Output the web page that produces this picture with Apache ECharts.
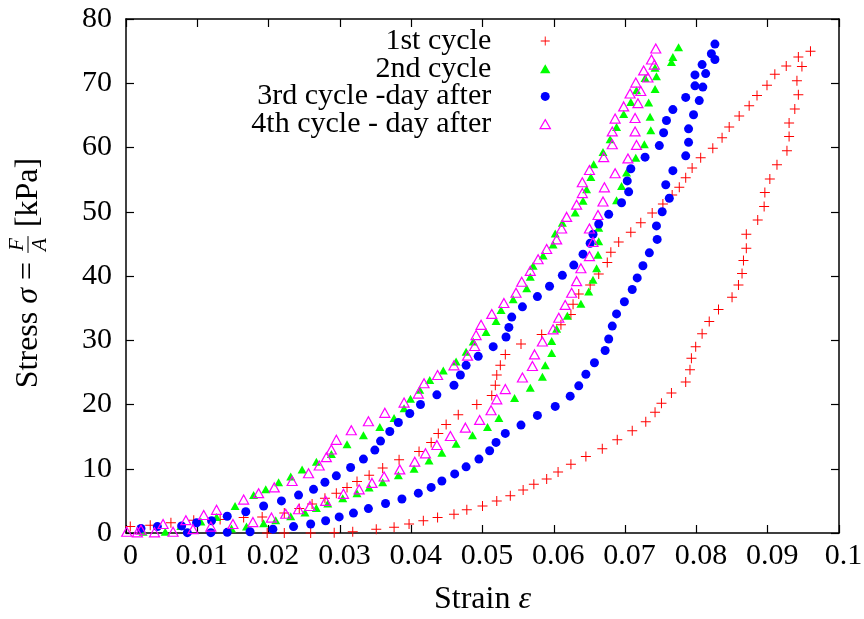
<!DOCTYPE html>
<html><head><meta charset="utf-8">
<script src="https://cdn.jsdelivr.net/npm/echarts@6/dist/echarts.min.js"></script>
<style>html,body{margin:0;padding:0;background:#fff}#c{width:864px;height:619px}</style>
</head><body><div id="c"></div><script>
const seriesNames = ['1st cycle', '2nd cycle', '3rd cycle -day after', '4th cycle - day after'];
const xTickLabels = ['0','0.01','0.02','0.03','0.04','0.05','0.06','0.07','0.08','0.09','0.1'];
const yTickLabels = ['0','10','20','30','40','50','60','70','80'];

const cycle1 = [
[0.0006,1.0],[0.0034,1.2],[0.0063,1.6],[0.0095,2.0],[0.0132,2.1],[0.0165,2.4],[0.0191,2.5],[0.0222,3.1],[0.0243,3.8],[0.0261,4.5],[0.0279,5.4],[0.0295,6.2],[0.0310,7.1],[0.0324,8.0],[0.0341,9.0],[0.0360,10.1],[0.0383,11.4],[0.0411,12.7],[0.0428,14.1],[0.0438,15.5],[0.0449,16.9],[0.0466,18.4],[0.0492,20.0],[0.0513,21.4],[0.0518,23.0],[0.0520,24.6],[0.0525,26.1],[0.0532,27.8],[0.0554,29.4],[0.0583,30.9],[0.0610,32.4],[0.0624,34.0],[0.0627,35.6],[0.0635,37.2],[0.0651,38.6],[0.0663,40.3],[0.0675,42.1],[0.0680,43.7],[0.0691,45.3],[0.0708,46.8],[0.0722,48.3],[0.0738,49.8],[0.0753,51.2],[0.0766,52.6],[0.0776,53.8],[0.0785,55.3],[0.0794,56.8],[0.0806,58.4],[0.0823,59.9],[0.0836,61.5],[0.0846,63.2],[0.0860,64.9],[0.0874,66.5],[0.0885,68.1],[0.0899,69.7],[0.0910,71.4],[0.0926,72.7],[0.0943,74.1],[0.0960,75.0],
[0.0198,0],[0.0222,0],[0.0259,0],[0.0292,0.05],[0.0318,0.2],[0.0351,0.6],[0.0376,0.9],[0.0397,1.4],[0.0417,1.9],[0.0437,2.4],[0.0460,2.9],[0.0478,3.6],[0.0500,4.2],[0.0520,5.0],[0.0539,5.8],[0.0557,6.7],[0.0572,7.6],[0.0590,8.4],[0.0606,9.5],[0.0624,10.7],[0.0645,11.9],[0.0668,13.1],[0.0689,14.5],[0.0710,15.9],[0.0729,17.3],[0.0742,18.8],[0.0751,20.2],[0.0765,21.8],[0.0785,23.5],[0.0791,25.4],[0.0793,27.2],[0.0799,29.0],[0.0808,31.0],[0.0818,32.9],[0.0831,34.8],[0.0850,36.7],[0.0859,38.6],[0.0864,40.4],[0.0866,42.4],[0.0870,44.3],[0.0870,46.5],[0.0886,48.7],[0.0895,50.8],[0.0896,53.0],[0.0903,55.1],[0.0913,57.3],[0.0927,59.5],[0.0930,61.7],[0.0930,63.8],[0.0938,66.0],[0.0943,68.2],[0.0941,70.4],[0.0948,72.6]
];
const cycle2 = [
[0.0024,0.2],[0.0055,0.2],[0.0077,1.1],[0.0105,1.8],[0.0127,2.5],[0.0153,4.2],[0.0179,5.9],[0.0196,6.8],[0.0214,7.9],[0.0231,8.8],[0.0247,9.9],[0.0267,11.1],[0.0288,12.3],[0.0310,13.8],[0.0333,15.2],[0.0356,16.5],[0.0376,17.9],[0.0390,19.4],[0.0399,20.9],[0.0412,22.3],[0.0426,23.8],[0.0445,25.3],[0.0463,26.7],[0.0477,28.2],[0.0487,29.8],[0.0505,31.3],[0.0519,33.0],[0.0526,34.7],[0.0543,36.4],[0.0562,38.1],[0.0567,39.9],[0.0571,41.6],[0.0585,43.2],[0.0599,44.9],[0.0602,46.6],[0.0612,48.3],[0.0630,49.9],[0.0641,51.7],[0.0646,53.5],[0.0652,55.4],[0.0656,57.4],[0.0669,59.3],[0.0679,61.3],[0.0688,63.2],[0.0698,65.2],[0.0708,67.1],[0.0716,68.9],[0.0728,70.8],[0.0742,72.4],[0.0775,75.6],
[0.0767,74.1],[0.0765,73.3],[0.0744,71.1],[0.0742,69.1],[0.0733,67.0],[0.0735,64.8],[0.0736,62.7],[0.0727,60.5],[0.0715,58.4],[0.0702,56.1],[0.0695,54.0],[0.0688,51.8],[0.0663,47.5],[0.0663,45.4],[0.0662,43.3],[0.0660,41.2],[0.0655,39.4],[0.0649,37.6],[0.0638,35.7],[0.0619,33.8],[0.0604,31.8],[0.0597,29.9],[0.0597,28.0],[0.0588,26.1],[0.0584,24.3],[0.0567,22.6],[0.0545,21.0],[0.0523,17.9],[0.0507,16.5],[0.0486,15.2],[0.0463,13.9],[0.0443,12.5],[0.0425,11.3],[0.0404,10.0],[0.0382,9.0],[0.0360,7.9],[0.0341,7.1],[0.0324,6.2],[0.0304,5.4],[0.0283,4.6],[0.0267,3.9],[0.0251,3.2],[0.0231,2.6],[0.0210,2.0],[0.0193,1.5],[0.0169,1.0],[0.0148,0.7]
];
const cycle3 = [
[0.0021,0.7],[0.0044,1.0],[0.0078,1.1],[0.0099,1.6],[0.0120,1.9],[0.0142,2.6],[0.0168,3.3],[0.0193,4.2],[0.0218,5.0],[0.0242,5.9],[0.0263,6.8],[0.0279,7.9],[0.0295,8.9],[0.0315,10.2],[0.0333,11.5],[0.0349,12.9],[0.0357,14.3],[0.0370,15.8],[0.0382,17.2],[0.0398,18.6],[0.0413,20.0],[0.0436,21.5],[0.0460,23.0],[0.0469,24.6],[0.0477,26.1],[0.0494,27.5],[0.0515,29.0],[0.0533,30.5],[0.0537,32.0],[0.0541,33.6],[0.0556,35.2],[0.0577,36.8],[0.0594,38.4],[0.0612,40.1],[0.0628,41.7],[0.0641,43.4],[0.0651,45.1],[0.0655,46.5],[0.0663,48.1],[0.0677,49.6],[0.0695,51.4],[0.0705,53.1],[0.0703,54.8],[0.0708,56.7],[0.0728,58.5],[0.0748,60.3],[0.0754,62.3],[0.0758,64.2],[0.0767,65.9],[0.0785,67.8],[0.0798,69.6],[0.0798,71.3],[0.0808,72.9],[0.0821,74.6],[0.0826,76.1],
[0.0826,73.7],[0.0813,71.5],[0.0809,69.4],[0.0804,67.3],[0.0796,65.1],[0.0789,62.9],[0.0789,60.8],[0.0785,58.7],[0.0767,56.4],[0.0757,54.2],[0.0762,52.1],[0.0752,50.0],[0.0744,47.8],[0.0745,45.7],[0.0734,43.6],[0.0725,41.6],[0.0717,39.7],[0.0710,37.9],[0.0699,36.0],[0.0688,34.1],[0.0682,32.2],[0.0677,30.2],[0.0672,28.4],[0.0657,26.5],[0.0645,24.7],[0.0635,22.9],[0.0623,21.3],[0.0602,19.7],[0.0577,18.3],[0.0554,16.8],[0.0532,15.5],[0.0519,14.1],[0.0510,12.8],[0.0495,11.5],[0.0477,10.3],[0.0461,9.2],[0.0443,8.1],[0.0428,7.1],[0.0410,6.2],[0.0387,5.3],[0.0364,4.6],[0.0340,3.8],[0.0319,3.1],[0.0299,2.5],[0.0280,1.9],[0.0259,1.4],[0.0235,1.0],[0.0206,0.6],[0.0174,0.2],[0.0142,0.1],[0.0119,0.05],[0.0086,0.05]
];
const cycle4 = [
[0.0001,0.2],[0.0021,0.5],[0.0052,1.4],[0.0084,2.0],[0.0109,2.8],[0.0127,3.6],[0.0165,5.2],[0.0186,6.2],[0.0208,7.1],[0.0233,8.1],[0.0256,9.3],[0.0271,10.5],[0.0281,11.8],[0.0288,13.0],[0.0295,14.5],[0.0316,16.0],[0.0340,17.4],[0.0363,18.7],[0.0390,20.3],[0.0410,21.7],[0.0418,23.3],[0.0437,24.6],[0.0460,26.1],[0.0479,27.6],[0.0489,29.1],[0.0491,30.8],[0.0498,32.4],[0.0513,34.1],[0.0530,35.8],[0.0547,37.4],[0.0555,39.1],[0.0567,40.8],[0.0578,42.6],[0.0590,44.2],[0.0604,45.7],[0.0611,47.4],[0.0618,49.2],[0.0632,51.1],[0.0640,52.9],[0.0640,54.6],[0.0650,56.5],[0.0670,58.5],[0.0682,60.5],[0.0682,62.5],[0.0686,64.5],[0.0698,66.4],[0.0707,68.4],[0.0715,70.1],[0.0726,72.0],[0.0737,73.7],[0.0743,75.4],
[0.0741,72.9],[0.0732,70.9],[0.0722,68.8],[0.0718,66.9],[0.0714,64.6],[0.0714,62.5],[0.0716,60.4],[0.0704,58.3],[0.0686,56.0],[0.0671,53.8],[0.0669,51.6],[0.0662,49.5],[0.0650,47.4],[0.0655,45.3],[0.0650,43.1],[0.0638,41.2],[0.0632,39.2],[0.0625,37.4],[0.0616,35.5],[0.0607,33.5],[0.0599,31.7],[0.0584,29.8],[0.0573,27.8],[0.0570,26.0],[0.0556,24.2],[0.0532,22.4],[0.0520,20.8],[0.0512,19.1],[0.0496,17.6],[0.0476,16.4],[0.0455,15.1],[0.0436,13.7],[0.0420,12.4],[0.0405,11.1],[0.0384,9.9],[0.0362,8.8],[0.0345,7.8],[0.0327,6.8],[0.0305,6.1],[0.0280,5.0],[0.0258,4.2],[0.0242,3.7],[0.0224,3.0],[0.0204,2.4],[0.0178,1.7],[0.0150,1.4],[0.0119,1.0],[0.0094,0.6],[0.0066,0.2],[0.0040,0.1],[0.0016,0.1]
];

const FONT = '"Liberation Serif", "Times New Roman", serif';
const TICK_FS = 30;
const PLUS = 'path://M0,4.5L10,4.5L10,5.5L0,5.5Z M4.5,0L5.5,0L5.5,10L4.5,10Z';
const TRI = 'path://M5,0L10,8.7L0,8.7Z';

// y-axis title with a stacked fraction, drawn as real text
const mctx = document.createElement('canvas').getContext('2d');
function tw(t, f) { mctx.font = f; return mctx.measureText(t).width; }
const fN = '32px ' + FONT, fI = 'italic 32px ' + FONT, fS = 'italic 21px ' + FONT;
const yt = [];
let cx = 0;
function addT(t, f) { yt.push({ type: 'text', style: { text: t, x: cx, y: 0, font: f, fill: '#000', align: 'left', verticalAlign: 'middle' } }); cx += tw(t, f); }
addT('Stress ', fN); addT('σ', fI); addT(' = ', fN);
const wFr = Math.max(tw('F', fS), tw('A', fS)) + 6;
yt.push({ type: 'text', style: { text: 'F', x: cx + wFr / 2, y: -12, font: fS, fill: '#000', align: 'center', verticalAlign: 'middle' } });
yt.push({ type: 'text', style: { text: 'A', x: cx + wFr / 2, y: 11, font: fS, fill: '#000', align: 'center', verticalAlign: 'middle' } });
yt.push({ type: 'line', shape: { x1: cx + 1, y1: -1, x2: cx + wFr - 1, y2: -1 }, style: { stroke: '#000', lineWidth: 1 } });
cx += wFr;
addT(' [kPa]', fN);
const halfW = cx / 2;
yt.forEach(e => { if (e.type === 'text') e.style.x -= halfW; else { e.shape.x1 -= halfW; e.shape.x2 -= halfW; } });

const chart = echarts.init(document.getElementById('c'), null, { renderer: 'canvas' });
const axisBase = {
  type: 'value',
  axisLine: { show: true, onZero: false, lineStyle: { color: '#000', width: 1.5 } },
  axisTick: { show: true, inside: true, length: 8, lineStyle: { color: '#000', width: 1.2 } },
  splitLine: { show: false }
};
const option = {
  backgroundColor: '#fff',
  animation: false,
  grid: { left: 126, right: 25, top: 19, bottom: 86, containLabel: false, outerBoundsMode: 'none' },
  xAxis: [
    Object.assign({}, axisBase, {
      position: 'bottom', min: 0, max: 0.1, interval: 0.01,
      axisLabel: { fontFamily: FONT, fontSize: TICK_FS, color: '#000', margin: 8, padding: [0, 0, 0, 9],
        formatter: v => xTickLabels[Math.round(v / 0.01)] },
      name: 'Strain {i|ε}', nameLocation: 'middle', nameGap: 51,
      nameTextStyle: { fontFamily: FONT, fontSize: 32, color: '#000', rich: { i: { fontFamily: FONT, fontSize: 32, fontStyle: 'italic', color: '#000' } } }
    }),
    Object.assign({}, axisBase, { position: 'top', min: 0, max: 0.1, interval: 0.01, axisLabel: { show: false } })
  ],
  yAxis: [
    Object.assign({}, axisBase, {
      position: 'left', min: 0, max: 80, interval: 10,
      axisLabel: { fontFamily: FONT, fontSize: TICK_FS, color: '#000', margin: 14,
        formatter: v => yTickLabels[Math.round(v / 10)] }
    }),
    Object.assign({}, axisBase, { position: 'right', min: 0, max: 80, interval: 10, axisLabel: { show: false } })
  ],
  legend: {
    orient: 'vertical', align: 'right', right: 313, top: 26, padding: 0,
    itemWidth: 98, itemHeight: 9, itemGap: -2.3, selectedMode: false,
    textStyle: { fontFamily: FONT, fontSize: 30, color: '#000' },
    data: [
      { name: seriesNames[0], icon: PLUS, itemStyle: { color: '#ff0000', borderWidth: 0 } },
      { name: seriesNames[1], icon: TRI, itemStyle: { color: '#00ff00', borderWidth: 0 } },
      { name: seriesNames[2], icon: 'circle', itemStyle: { color: '#0000ff', borderWidth: 0 } },
      { name: seriesNames[3], icon: TRI, itemStyle: { color: 'rgba(0,0,0,0)', borderColor: '#ff00ff', borderWidth: 1.2 } }
    ]
  },
  graphic: [{ type: 'group', x: 29, y: 273, rotation: Math.PI / 2, children: yt }],
  series: [
    { name: seriesNames[0], type: 'scatter', data: cycle1, clip: false, symbol: PLUS, symbolSize: 10,
      itemStyle: { color: '#ff0000', opacity: 1 } },
    { name: seriesNames[1], type: 'scatter', data: cycle2, clip: false, symbol: 'triangle', symbolSize: [9, 8],
      itemStyle: { color: '#00ff00', opacity: 1 } },
    { name: seriesNames[2], type: 'scatter', data: cycle3, clip: false, symbol: 'circle', symbolSize: 9,
      itemStyle: { color: '#0000ff', opacity: 1 } },
    { name: seriesNames[3], type: 'scatter', data: cycle4, clip: false, symbol: 'triangle', symbolSize: [10, 9],
      itemStyle: { color: 'rgba(0,0,0,0)', borderColor: '#ff00ff', borderWidth: 1.2, opacity: 1 } }
  ]
};
chart.setOption(option);
</script></body></html>
